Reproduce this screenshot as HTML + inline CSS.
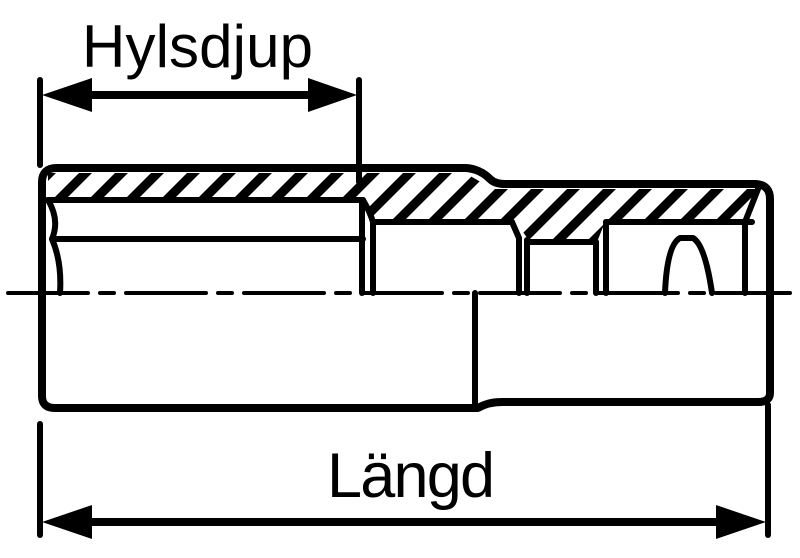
<!DOCTYPE html>
<html><head><meta charset="utf-8"><style>html,body{margin:0;padding:0;background:#fff;width:800px;height:558px;overflow:hidden}</style></head>
<body>
<svg width="800" height="558" viewBox="0 0 800 558" xmlns="http://www.w3.org/2000/svg">
<defs>
<pattern id="h" patternUnits="userSpaceOnUse" width="36" height="36" patternTransform="skewX(-45)">
<rect x="0" y="0" width="13" height="36" fill="#000"/>
</pattern>
<clipPath id="hc"><polygon points="48,173 465,173 493,189 762,189 752,222 605,222 597,242 530,242 518,225 373,222 363,200 48,200"/></clipPath>
</defs>
<rect x="40" y="160" width="740" height="100" fill="url(#h)" clip-path="url(#hc)"/>
<g fill="none" stroke="#000" stroke-linecap="round" stroke-linejoin="round">
<path d="M42,182 Q42,168 57,168 L466,168 Q480,169 490,179 Q495,184 505,184 L756,184 Q770,185 770,199 L770,393 Q770,402 758,402 L502,402 Q488,402 478,408 L55,408 Q42,408 42,396 Z" stroke-width="8"/>
<g stroke-width="6">
<line x1="48" y1="200" x2="363" y2="200"/>
<line x1="52" y1="239" x2="363" y2="239"/>
<path d="M48,200 Q60,220 52,239 Q62,262 60,293"/>
<path d="M362,200 L362,293"/>
<path d="M363,200 Q370,212 373,222 L373,293"/>
<line x1="373" y1="222" x2="512" y2="222"/>
<path d="M512,222 L519,238 L519,293"/>
<path d="M527,240 L527,293"/>
<line x1="527" y1="242" x2="596" y2="242"/>
<path d="M596,242 L596,293"/>
<path d="M606,222 L606,293"/>
<line x1="606" y1="222" x2="752" y2="222"/>
<path d="M665,293 Q667,245 680,238 L693,238 Q705,245 712,293"/>
<path d="M758,189 L745,222 L745,293"/>
<line x1="475" y1="293" x2="475" y2="404"/>
</g>
<line x1="8" y1="293" x2="790" y2="293" stroke-width="4" stroke-dasharray="80,12,14,12"/>
<g stroke-width="6">
<line x1="40" y1="80" x2="40" y2="165"/>
<line x1="359" y1="80" x2="359" y2="182"/>
<line x1="40" y1="424" x2="40" y2="535"/>
<line x1="768" y1="405" x2="768" y2="535"/>
</g>
<line x1="80" y1="95" x2="320" y2="95" stroke-width="8"/>
<line x1="80" y1="522" x2="730" y2="522" stroke-width="8"/>
</g>
<polygon points="42,95 92,78 92,112" fill="#000"/>
<polygon points="357,95 308,78 308,112" fill="#000"/>
<polygon points="42,522 92,505 92,539" fill="#000"/>
<polygon points="766,522 716,505 716,539" fill="#000"/>
<text x="82" y="67" font-family="Liberation Sans, sans-serif" font-size="60" fill="#000" textLength="231">Hylsdjup</text>
<text x="327" y="497" font-family="Liberation Sans, sans-serif" font-size="63" fill="#000" textLength="168">Längd</text>
</svg>
</body></html>
